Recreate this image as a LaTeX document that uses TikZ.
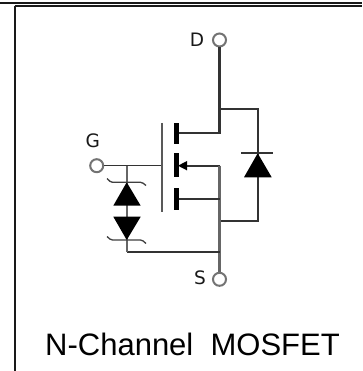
\documentclass[tikz,border=0pt]{standalone}
\usepackage{fontspec}
\setmainfont{Liberation Sans}
\newfontfamily\lblfont{DejaVu Sans}
\begin{document}
\begin{tikzpicture}[x=1pt,y=-1pt,
  wire/.style={draw=black!80,line width=2.1pt},
  thinwire/.style={draw=black!80,line width=1.6pt},
  hookline/.style={draw=black!75,line width=1.3pt,rounded corners=1.5pt},
  plate/.style={fill=black,draw=none},
  tri/.style={fill=black,draw=none},
  terminal/.style={circle,draw=black!55,fill=white,line width=2pt,minimum size=13pt,inner sep=0pt},
  lbl/.style={font=\lblfont\fontsize{18.5}{18.5}\selectfont,text=black!90,inner sep=0pt},
  frameline/.style={draw=black!90,line width=1.5pt}]
\useasboundingbox (0,0) rectangle (362,371);
\fill[white] (0,0) rectangle (362,371);
% frame
\draw[frameline] (0,3) -- (362,3);
\draw[frameline] (14.5,5.8) -- (362,5.8);
\draw[frameline] (15,5.8) -- (15,371);
% terminals
\node[terminal] (D) at (219.5,40) {};
\node[terminal] (G) at (96.7,165.7) {};
\node[terminal] (S) at (219.5,279.3) {};
% junction coordinates
\coordinate (dj) at (219.5,109.3);
\coordinate (dp) at (219.5,133.3);
\coordinate (sm) at (219.5,165.7);
\coordinate (sb) at (219.5,199.3);
\coordinate (sd) at (219.5,220.7);
\coordinate (sz) at (219.5,251.7);
\coordinate (gg) at (161.7,165.7);
\coordinate (zt) at (126.7,165.7);
\coordinate (zb) at (126.7,251.7);
\coordinate (dr) at (257.7,109.3);
\coordinate (drb) at (257.7,220.7);
% wires
\draw[wire] (D) -- (dj) -- (dp) -- (178,133.3);
\draw[wire] (dj) -- (dr) -- (drb) -- (sd);
\draw[wire] (180,165.7) -- (sm);
\draw[wire,draw=black!60] (sm) -- (S);
\draw[wire] (178,199.3) -- (sb);
\draw[wire] (zb) -- (sz);
\draw[thinwire] (G) -- (gg);
\draw[wire,draw=black!60] (zt) -- (zb);
% gate and channel plates
\draw[thinwire,draw=black!65] (161.7,123) -- (161.7,211.7);
\fill[plate] (173.5,123) rectangle (178.5,144);
\fill[plate] (173.5,152.7) rectangle (178.5,177.3);
\fill[plate] (173.5,188) rectangle (178.5,210);
\fill[tri] (178,165.7) -- (187,161) -- (187,170.4) -- cycle;
% body diode
\fill[tri] (257.7,153.3) -- (271.7,177.3) -- (244,177.3) -- cycle;
\draw[thinwire] (241,153.3) -- (272.7,153.3);
% zener pair
\fill[tri] (126.7,182.3) -- (140.7,205.7) -- (113.3,205.7) -- cycle;
\fill[tri] (126.7,240) -- (140.7,216.7) -- (113.3,216.7) -- cycle;
\draw[hookline] (107,178.5) -- (111,182.3) -- (142,182.3) -- (146,185.5);
\draw[hookline] (107,236.5) -- (111,240) -- (142,240) -- (146,243.5);
% labels
\node[lbl] (Dl) at (197,39.5) {D};
\node[lbl] (Gl) at (92.7,141) {G};
\node[lbl] (Sl) at (200,278) {S};
\node[inner sep=0pt,anchor=base] (cap) at (192.5,355) {\fontsize{31}{32}\selectfont N-Channel\ \ MOSFET};
\end{tikzpicture}
\end{document}
